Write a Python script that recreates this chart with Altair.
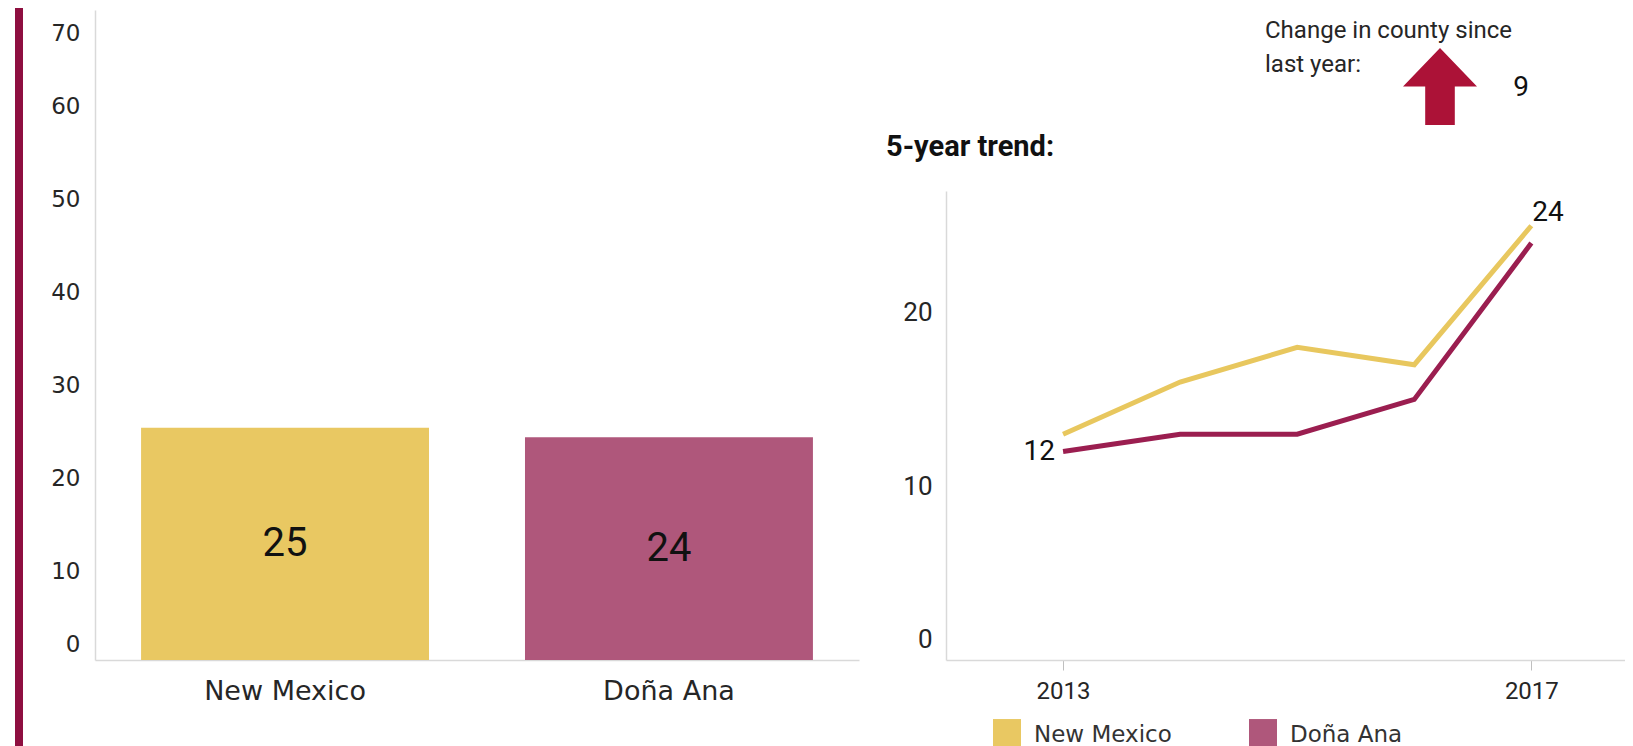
import altair as alt
import pandas as pd

# ---------------- data ----------------
regions = ["New Mexico", "Doña Ana"]
current_values = [25, 24]
years = [2013, 2014, 2015, 2016, 2017]
nm_trend = [13, 16, 18, 17, 25]
da_trend = [12, 13, 13, 15, 24]
change_since_last_year = 9
bar_axis_ticks = [0, 10, 20, 30, 40, 50, 60, 70]
trend_axis_ticks = [0, 10, 20]
trend_year_ticks = [2013, 2017]

# ---------------- style ----------------
bar_colors = ["#E9C862", "#AF577B"]
line_colors = ["#E8C75E", "#9B1E50"]
MAROON = "#8E0F40"
ARROW_RED = "#AC1237"
GRID_GREY = "#D9D9D9"
NARROW = "Liberation Sans Narrow, Arial Narrow, Roboto, sans-serif"
WIDE = "DejaVu Sans, Verdana, sans-serif"
ARROW_PATH = "M0,-1.04L1,0L0.4,0L0.4,1.04L-0.4,1.04L-0.4,0L-1,0Z"
SWATCH_PATH = "M-1,-1.14H1V1H-1Z"

bar_df = pd.DataFrame({"region": regions, "value": current_values})
trend_df = pd.DataFrame({
    "year": years * 2,
    "value": nm_trend + da_trend,
    "region": [regions[0]] * len(years) + [regions[1]] * len(years),
})
one_row = pd.DataFrame({"k": [0]})

# ---------------- left: bar chart ----------------
x_bar = alt.X(
    "region:N", sort=regions,
    scale=alt.Scale(paddingInner=0.25, paddingOuter=0.12),
    axis=alt.Axis(title=None, labelAngle=0, labelFont=WIDE, labelFontSize=27,
                  labelColor="#262626", labelPadding=18, ticks=False,
                  domainColor=GRID_GREY, domainWidth=1.5),
)
y_bar = alt.Y(
    "value:Q", scale=alt.Scale(domain=[0, 70], nice=False),
    axis=alt.Axis(title=None, values=bar_axis_ticks, grid=False, ticks=False,
                  labelFont=WIDE, labelFontSize=23, labelColor="#262626",
                  labelPadding=15, labelFlush=True, labelFlushOffset=-8, labelOffset=4,
                  domainColor=GRID_GREY, domainWidth=1.5),
)
bars = alt.Chart(bar_df).mark_bar().encode(
    x=x_bar, y=y_bar,
    color=alt.Color("region:N", scale=alt.Scale(domain=regions, range=bar_colors), legend=None),
)
bar_text = alt.Chart(bar_df).transform_calculate(mid="datum.value / 2").mark_text(
    font=NARROW, fontSize=40, color="#111111", baseline="middle"
).encode(
    x=alt.X("region:N", sort=regions),
    y=alt.Y("mid:Q"),
    text=alt.Text("value:Q"),
)
edge_rule = alt.Chart(one_row).mark_rule(color=MAROON, strokeWidth=8).encode(
    x=alt.value(-76), y=alt.value(-2), y2=alt.value(736)
)
left = alt.layer(edge_rule, bars, bar_text).properties(width=764, height=650)

# ---------------- right top: annotation panel ----------------
ann_base = alt.Chart(one_row)
ann_line1 = ann_base.mark_text(align="left", baseline="middle", font=NARROW, fontSize=24,
                               color="#262626").encode(
    x=alt.value(319), y=alt.value(21), text=alt.value("Change in county since"))
ann_line2 = ann_base.mark_text(align="left", baseline="middle", font=NARROW, fontSize=24,
                               color="#262626").encode(
    x=alt.value(319), y=alt.value(55), text=alt.value("last year:"))
ann_arrow = ann_base.mark_point(shape=ARROW_PATH, filled=True, size=74 * 74, color=ARROW_RED,
                                opacity=1, strokeWidth=0).encode(
    x=alt.value(494), y=alt.value(76.5))
ann_value = ann_base.mark_text(align="center", baseline="middle", font=NARROW, fontSize=28,
                               color="#111111").encode(
    x=alt.value(575), y=alt.value(78), text=alt.value(str(change_since_last_year)))
ann_title = ann_base.mark_text(align="left", baseline="middle", font=NARROW, fontSize=29,
                               fontWeight="bold", color="#111111").encode(
    x=alt.value(-60), y=alt.value(137), text=alt.value("5-year trend:"))
annotation = alt.layer(ann_line1, ann_line2, ann_arrow, ann_value, ann_title).properties(
    width=679, height=171)

# ---------------- right bottom: line chart ----------------
x_year = alt.X(
    "year:Q", scale=alt.Scale(domain=[2012, 2017.8], nice=False, zero=False),
    axis=alt.Axis(title=None, values=trend_year_ticks, format="d", grid=False,
                  tickColor="#BFBFBF", tickSize=10, labelFont=NARROW, labelFontSize=24,
                  labelColor="#262626", labelPadding=9, labelFlush=False,
                  domainColor=GRID_GREY, domainWidth=1.5),
)
y_trend = alt.Y(
    "value:Q", scale=alt.Scale(domain=[0, 27], nice=False),
    axis=alt.Axis(title=None, values=trend_axis_ticks, grid=False, ticks=False,
                  labelFont=NARROW, labelFontSize=26, labelColor="#262626",
                  labelPadding=14, labelFlush=True, labelFlushOffset=-8,
                  domainColor=GRID_GREY, domainWidth=1.5),
)
lines = alt.Chart(trend_df).mark_line(strokeWidth=5).encode(
    x=x_year, y=y_trend,
    detail="region:N",
    stroke=alt.condition(alt.datum.region == regions[0],
                         alt.value(line_colors[0]), alt.value(line_colors[1])),
)
legend_layer = alt.Chart(trend_df).transform_filter("false").mark_square(opacity=1).encode(
    color=alt.Color(
        "region:N", scale=alt.Scale(domain=regions, range=bar_colors),
        legend=alt.Legend(title=None, orient="none", legendX=47, legendY=711,
                          direction="horizontal", symbolType=SWATCH_PATH, symbolSize=784,
                          symbolStrokeWidth=0, symbolOpacity=1, labelFont=WIDE,
                          labelFontSize=23, labelColor="#333333", labelOffset=13,
                          columnPadding=77, padding=0, labelLimit=400),
    ),
)
start_label = alt.Chart(trend_df).transform_filter(
    (alt.datum.region == regions[1]) & (alt.datum.year == years[0])
).mark_text(align="right", baseline="middle", dx=-8, font=NARROW, fontSize=28,
            color="#111111").encode(x=x_year, y=y_trend, text=alt.Text("value:Q"))
end_label = alt.Chart(trend_df).transform_filter(
    (alt.datum.region == regions[1]) & (alt.datum.year == years[-1])
).mark_text(align="left", baseline="middle", dx=1, dy=-30, font=NARROW, fontSize=28,
            color="#111111").encode(x=x_year, y=y_trend, text=alt.Text("value:Q"))
trend = alt.layer(lines, legend_layer, start_label, end_label).properties(width=679, height=469)

right = alt.vconcat(annotation, trend, spacing=10)

chart = alt.hconcat(left, right, spacing=27).resolve_scale(
    color="independent"
).resolve_legend(color="independent").properties(
    padding={"left": 7, "top": -4, "right": 0, "bottom": 0}
).configure_view(stroke=None)

chart.save("out.html", embed_options={"renderer": "svg", "actions": False})
